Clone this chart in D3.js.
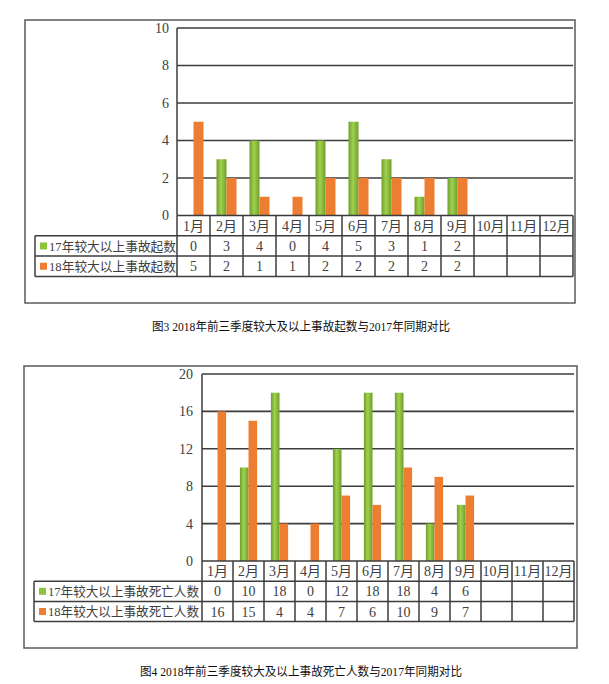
<!DOCTYPE html>
<html>
<head>
<meta charset="utf-8">
<style>
  body { margin: 0; background: #fff; }
  text { font-family: "Liberation Serif", "Noto Sans CJK SC", serif; fill: #404040; }
  .cap { fill: #111; font-size: 12px; }
</style>
</head>
<body>
<script src="https://cdn.jsdelivr.net/npm/d3@7"></script>
<script>
// 月份
var months = ["1月","2月","3月","4月","5月","6月","7月","8月","9月","10月","11月","12月"];
// 图3 较大及以上事故起数
var acc17 = [0, 3, 4, 0, 4, 5, 3, 1, 2];
var acc18 = [5, 2, 1, 1, 2, 2, 2, 2, 2];
var accTicks = [0, 2, 4, 6, 8, 10];
var accNames = ["17年较大以上事故起数", "18年较大以上事故起数"];
var accCaption = "图3 2018年前三季度较大及以上事故起数与2017年同期对比";
// 图4 较大及以上事故死亡人数
var death17 = [0, 10, 18, 0, 12, 18, 18, 4, 6];
var death18 = [16, 15, 4, 4, 7, 6, 10, 9, 7];
var deathTicks = [0, 4, 8, 12, 16, 20];
var deathNames = ["17年较大以上事故死亡人数", "18年较大以上事故死亡人数"];
var deathCaption = "图4 2018年前三季度较大及以上事故死亡人数与2017年同期对比";

var green = "#8cc43c", orange = "#ed7d31";

var svg = d3.select("body").append("svg").attr("width", 609).attr("height", 684);

var grad = svg.append("defs").append("linearGradient").attr("id", "gGreen")
    .attr("x1", "0%").attr("x2", "100%").attr("y1", "0%").attr("y2", "0%");
grad.append("stop").attr("offset", "0%").attr("stop-color", "#6f9e2c");
grad.append("stop").attr("offset", "45%").attr("stop-color", "#9fd24e");
grad.append("stop").attr("offset", "100%").attr("stop-color", "#6f9e2c");

function drawChart(cfg) {
  var g = svg.append("g");
  var line = "#3c3c3c";

  // 外框
  g.append("rect").attr("x", cfg.fx0).attr("y", cfg.fy0)
    .attr("width", cfg.fx1 - cfg.fx0).attr("height", cfg.fy1 - cfg.fy0)
    .attr("fill", "none").attr("stroke", "#5a5a5a").attr("stroke-width", 1.5);

  var x = d3.scaleBand().domain(months).range([cfg.left, cfg.right]);
  var xs = d3.scaleBand().domain([0, 1]).range([0, x.bandwidth()]).paddingOuter(cfg.pad);
  var y = d3.scaleLinear().domain([0, cfg.ticks[cfg.ticks.length - 1]]).range([cfg.zero, cfg.top]);

  // 网格线
  g.append("g").selectAll("line").data(cfg.ticks.slice(1)).join("line")
    .attr("x1", cfg.left).attr("x2", cfg.right)
    .attr("y1", d => y(d)).attr("y2", d => y(d))
    .attr("stroke", line).attr("stroke-width", 1.6);
  g.append("line").attr("x1", cfg.left).attr("x2", cfg.left)
    .attr("y1", cfg.top).attr("y2", cfg.zero).attr("stroke", line).attr("stroke-width", 1.5);

  // 刻度
  g.append("g").selectAll("text").data(cfg.ticks).join("text")
    .attr("x", cfg.tickRight).attr("y", d => y(d)).attr("dy", "0.35em")
    .attr("text-anchor", "end").attr("font-size", 14).text(d => d);

  // 柱子
  var series = [cfg.s17, cfg.s18];
  var fills = ["url(#gGreen)", orange];
  series.forEach(function(vals, si) {
    g.append("g").selectAll("rect").data(vals).join("rect")
      .attr("x", (d, i) => x(months[i]) + xs(si))
      .attr("width", xs.bandwidth())
      .attr("y", d => y(d))
      .attr("height", d => cfg.zero - y(d))
      .attr("fill", fills[si]);
  });

  // 数据表
  var rh = cfg.rowH;
  var r0 = cfg.zero, r1 = r0 + rh, r2 = r1 + rh, r3 = r2 + rh;
  var t = g.append("g").attr("stroke", line).attr("stroke-width", 1.5);
  t.append("line").attr("x1", cfg.left).attr("x2", cfg.right).attr("y1", r0).attr("y2", r0);
  [r1, r2, r3].forEach(function(yy) {
    t.append("line").attr("x1", cfg.legLeft).attr("x2", cfg.right).attr("y1", yy).attr("y2", yy);
  });
  t.append("line").attr("x1", cfg.legLeft).attr("x2", cfg.legLeft).attr("y1", r1).attr("y2", r3);
  t.selectAll(".v").data(months).join("line")
    .attr("x1", d => x(d)).attr("x2", d => x(d)).attr("y1", r0).attr("y2", r3);
  t.append("line").attr("x1", cfg.right).attr("x2", cfg.right).attr("y1", r0).attr("y2", r3);

  g.append("g").selectAll("text").data(months).join("text")
    .attr("x", d => x(d) + x.bandwidth() / 2).attr("y", r0 + rh / 2).attr("dy", "0.36em")
    .attr("text-anchor", "middle").attr("font-size", 14).text(d => d);

  series.forEach(function(vals, si) {
    var ry = (si === 0 ? r1 : r2) + rh / 2;
    g.append("g").selectAll("text").data(vals).join("text")
      .attr("x", (d, i) => x(months[i]) + x.bandwidth() / 2).attr("y", ry).attr("dy", "0.36em")
      .attr("text-anchor", "middle").attr("font-size", 14).text(d => d);
    g.append("rect").attr("x", cfg.legLeft + 5).attr("y", ry - 3.5).attr("width", 7).attr("height", 7)
      .attr("fill", si === 0 ? green : orange);
    g.append("text").attr("x", cfg.legLeft + 14).attr("y", ry).attr("dy", "0.36em")
      .attr("font-size", 13).attr("textLength", cfg.legTextW).attr("lengthAdjust", "spacingAndGlyphs")
      .text(cfg.names[si]);
  });

  // 图题
  g.append("text").attr("class", "cap").attr("x", cfg.capX).attr("y", cfg.capY).attr("dy", "0.36em")
    .attr("text-anchor", "middle").attr("textLength", cfg.capW).attr("lengthAdjust", "spacingAndGlyphs")
    .text(cfg.caption);
}

drawChart({
  fx0: 25, fy0: 20, fx1: 575, fy1: 303,
  left: 177, right: 573, top: 28, zero: 215.5, rowH: 20.3,
  legLeft: 35, tickRight: 169, pad: 0.65, legTextW: 127,
  ticks: accTicks, s17: acc17, s18: acc18, names: accNames,
  caption: accCaption, capX: 301, capY: 327, capW: 298
});

drawChart({
  fx0: 24, fy0: 366, fx1: 577, fy1: 648,
  left: 202, right: 574, top: 374, zero: 561, rowH: 20.2,
  legLeft: 34, tickRight: 193, pad: 0.8, legTextW: 151,
  ticks: deathTicks, s17: death17, s18: death18, names: deathNames,
  caption: deathCaption, capX: 301, capY: 672, capW: 322
});
</script>
</body>
</html>
